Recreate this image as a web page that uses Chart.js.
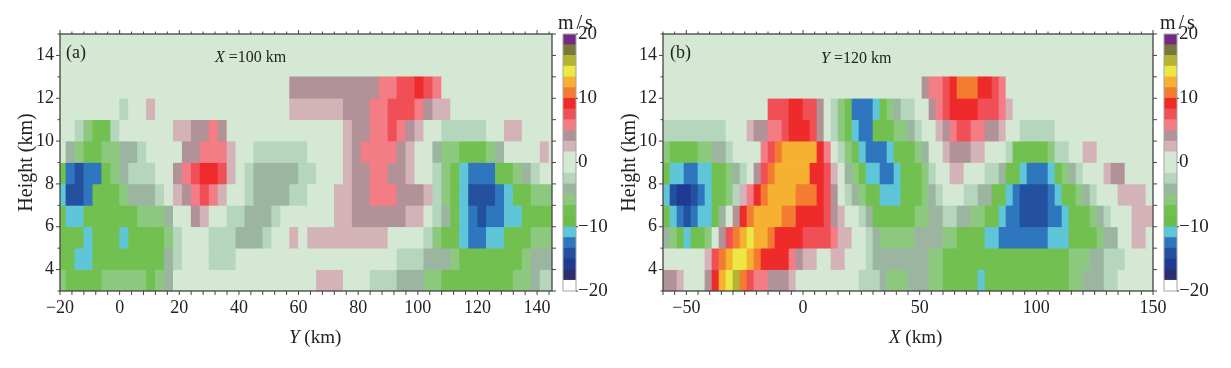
<!DOCTYPE html>
<html>
<head>
<meta charset="utf-8">
<title>Wind sections</title>
<script src="https://cdn.jsdelivr.net/npm/chart.js@4"></script>
<style>
    html, body { margin: 0; padding: 0; background: #fff; }
    body { position: relative; width: 1231px; height: 368px; overflow: hidden; font-family: "Liberation Serif", serif; color: #222; }
    canvas { position: absolute; top: 0; }
    .label { position: absolute; white-space: pre; line-height: 20px; }
</style>
</head>
<body>

<canvas id="panelA" width="560" height="368" style="left:0"></canvas>
<canvas id="barA" width="60" height="368" style="left:556px"></canvas>
<canvas id="panelB" width="580" height="368" style="left:603px"></canvas>
<canvas id="barB" width="60" height="368" style="left:1157px"></canvas>

<div class="label" style="left:66px;top:42px;font-size:18px">(a)</div>
<div class="label" style="left:215px;top:47px;font-size:16px"><i>X</i> =100 km</div>
<div class="label" style="left:289px;top:327px;font-size:19px"><i>Y</i> (km)</div>
<div class="label" style="left:558px;top:12px;font-size:20px;letter-spacing:3px">m/s</div>

<div class="label" style="left:670px;top:42px;font-size:18px">(b)</div>
<div class="label" style="left:821px;top:48px;font-size:16px"><i>Y</i> =120 km</div>
<div class="label" style="left:889px;top:327px;font-size:19px"><i>X</i> (km)</div>
<div class="label" style="left:1160px;top:12px;font-size:20px;letter-spacing:3px">m/s</div>

<script>

// --------------------------------------------
// Colour scale (24 steps from -20 to 20 m/s)
// --------------------------------------------

const levelColors = [
    "#ffffff", "#2e2e6e", "#1f3a93", "#2450a0", "#2e76bd", "#5fc5d8",
    "#6cbd45", "#72c04f", "#8cc97f", "#9bb5a0", "#b5d6bd", "#d5e8d4",
    "#d5e8d4", "#d4b3b8", "#b09298", "#f37c85", "#f04f55", "#ee2a2a",
    "#f47c30", "#f6b133", "#ebe843", "#b5b334", "#78783a", "#742a83"
];

const barEdges = [
    -20, -18.33, -16.67, -15, -13.33, -11.67, -10, -8.33, -6.67, -5, -3.33, -1.67, 0,
    1.67, 3.33, 5, 6.67, 8.33, 10, 11.67, 13.33, 15, 16.67, 18.33, 20
];

const barTicks = [20, 10, 0, -10, -20];


// --------------------------------------------
// Panel (a), X = 100 km, one list per height row
// --------------------------------------------

const colsA = [
    -19.5, -16.5, -13.5, -10.5, -7.5, -4.5, -1.5, 1.5, 4.5, 7.5, 10.5, 13.5, 16.5, 19.5,
    22.5, 25.5, 28.5, 31.5, 34.5, 37.5, 40.5, 43.5, 46.5, 49.5, 52.5, 55.5, 58.5, 61.5,
    64.5, 67.5, 70.5, 73.5, 76.5, 79.5, 82.5, 85.5, 88.5, 91.5, 94.5, 97.5, 100.5, 103.5,
    106.5, 109.5, 112.5, 115.5, 118.5, 121.5, 124.5, 127.5, 130.5, 133.5, 136.5, 139.5, 142.5, 145.5
];

const a12 = [0,0,0,0,0,0,0,0,0,0,0,0,0,0,0,0,0,0,0,0,0,0,0,0,0,0,4,4,4,4,4,4,4,4,4,4,6,6,7.5,7.5,9,7.5,6,0,0,0,0,0,0,0,0,0,0,0,0,0];
const a11 = [0,0,0,0,0,0,0,-2.5,0,0,2.5,0,0,0,0,0,0,0,0,0,0,0,0,0,0,0,2.5,2.5,2.5,2.5,2.5,2.5,4,4,4,6,6,7.5,7.5,7.5,6,4,2.5,2.5,0,0,0,0,0,0,0,0,0,0,0,0];
const a10 = [0,0,-2.5,-6,-8,-8,-2.5,0,0,0,0,0,0,2.5,2.5,4,4,6,4,0,0,0,0,0,0,0,0,0,0,0,0,0,2.5,4,4,6,6,7.5,6,4,2.5,0,0,-2.5,-2.5,-2.5,-2.5,-2.5,0,0,2.5,2.5,0,0,0,0];
const a9 = [0,-4,-6,-8,-8,-6,-6,-4,-4,-2.5,0,0,0,0,4,4,6,6,6,2.5,0,0,-2.5,-2.5,-2.5,-2.5,-2.5,-2.5,0,0,0,0,2.5,4,6,6,6,6,4,2.5,0,0,-4,-6,-6,-8,-8,-8,-6,-4,0,0,0,0,2.5,0];
const a8 = [-8,-12.5,-14,-12.5,-12.5,-8,-6,-4,-2.5,-2.5,-2.5,0,0,4,6,7.5,9,9,7.5,2.5,0,-2.5,-4,-4,-4,-4,-4,-2.5,-2.5,0,0,0,2.5,4,4,6,6,4,4,2.5,0,0,-2.5,-6,-8,-11,-12.5,-12.5,-12.5,-8,-8,-6,-4,-2.5,0,0];
const a7 = [-11,-14,-14,-12.5,-8,-8,-8,-6,-4,-4,-4,-2.5,0,2.5,4,6,7.5,6,2.5,0,0,-2.5,-4,-4,-4,-4,-2.5,-2.5,0,0,0,2.5,2.5,4,4,6,6,6,4,4,4,2.5,-2.5,-6,-8,-11,-14,-14,-14,-12.5,-11,-8,-8,-6,-6,-6];
const a6 = [-8,-11,-11,-8,-8,-8,-8,-8,-8,-6,-6,-6,-4,0,0,4,2.5,0,0,-2.5,-2.5,-4,-4,-4,-2.5,0,0,0,0,0,0,2.5,2.5,4,4,4,4,4,4,2.5,2.5,0,-2.5,-4,-8,-11,-12.5,-14,-12.5,-12.5,-11,-11,-8,-8,-8,-8];
const a5 = [-8,-8,-8,-11,-8,-8,-8,-11,-8,-8,-8,-8,-6,-2.5,0,0,0,-2.5,-2.5,-2.5,-4,-4,-4,-2.5,0,0,2.5,0,2.5,2.5,2.5,2.5,2.5,2.5,2.5,2.5,2.5,0,0,0,0,-2.5,-6,-8,-8,-11,-12.5,-12.5,-11,-11,-8,-8,-8,-6,-6,-6];
const a4 = [-8,-8,-11,-11,-8,-8,-8,-8,-8,-8,-8,-8,-4,-2.5,0,0,0,-2.5,-2.5,-2.5,0,0,0,0,0,0,0,0,0,0,0,0,0,0,0,0,0,0,-2.5,-2.5,-2.5,-4,-4,-4,-6,-8,-8,-8,-8,-8,-8,-8,-6,-4,-4,-4];
const a3 = [-6,-8,-8,-8,-8,-6,-6,-6,-6,-6,-8,-6,-4,0,0,0,0,0,0,0,0,0,0,0,0,0,0,0,0,2.5,2.5,2.5,0,0,0,-2.5,-2.5,-2.5,-4,-4,-4,-6,-6,-8,-8,-8,-8,-8,-8,-8,-8,-6,-6,-4,-2.5,-2.5];


// --------------------------------------------
// Panel (b), Y = 120 km, one list per height row
// --------------------------------------------

const colsB = [
    -58.5, -55.5, -52.5, -49.5, -46.5, -43.5, -40.5, -37.5, -34.5, -31.5, -28.5, -25.5, -22.5, -19.5,
    -16.5, -13.5, -10.5, -7.5, -4.5, -1.5, 1.5, 4.5, 7.5, 10.5, 13.5, 16.5, 19.5, 22.5,
    25.5, 28.5, 31.5, 34.5, 37.5, 40.5, 43.5, 46.5, 49.5, 52.5, 55.5, 58.5, 61.5, 64.5,
    67.5, 70.5, 73.5, 76.5, 79.5, 82.5, 85.5, 88.5, 91.5, 94.5, 97.5, 100.5, 103.5, 106.5,
    109.5, 112.5, 115.5, 118.5, 121.5, 124.5, 127.5, 130.5, 133.5, 136.5, 139.5, 142.5, 145.5, 148.5
];

const b12 = [0,0,0,0,0,0,0,0,0,0,0,0,0,0,0,0,0,0,0,0,0,0,0,0,0,0,0,0,0,0,0,0,0,0,0,0,0,4,6,6,7.5,9,11,11,11,9,9,7.5,6,0,0,0,0,0,0,0,0,0,0,0,0,0,0,0,0,0,0,0,0,0];
const b11 = [0,0,0,0,0,0,0,0,0,0,0,0,0,0,0,7.5,7.5,7.5,9,9,7.5,7.5,4,0,-2.5,-6,-8,-12.5,-12.5,-12.5,-11,-8,-6,-4,-2.5,-2.5,0,0,4,6,7.5,9,9,9,9,7.5,7.5,7.5,6,2.5,0,0,0,0,0,0,0,0,0,0,0,0,0,0,0,0,0,0,0,0];
const b10 = [-2.5,-2.5,-2.5,-2.5,-2.5,-2.5,-2.5,-2.5,-2.5,0,0,0,2.5,4,4,6,6,7.5,9,9,9,7.5,4,0,-2.5,-6,-8,-11,-12.5,-12.5,-8,-8,-8,-6,-6,-4,-2.5,0,0,2.5,4,6,7.5,7.5,6,6,4,4,2.5,0,0,-2.5,-2.5,-2.5,-2.5,-2.5,0,0,0,0,0,0,0,0,0,0,0,0,0,0];
const b9 = [-6,-8,-8,-8,-8,-6,-6,-4,-4,-2.5,0,0,0,0,6,7.5,11,12.5,12.5,12.5,12.5,12.5,9,6,0,-2.5,-6,-8,-11,-12.5,-12.5,-12.5,-11,-8,-8,-8,-6,-4,0,0,2.5,4,4,4,2.5,2.5,0,0,0,-2.5,-8,-8,-8,-8,-8,-6,-2.5,-2.5,0,0,2.5,2.5,0,0,0,0,0,0,0,0];
const b8 = [-8,-11,-11,-12.5,-12.5,-11,-11,-8,-8,-6,-4,-2.5,0,4,7.5,11,12.5,12.5,12.5,12.5,12.5,9,9,7.5,2.5,0,-4,-6,-8,-11,-11,-12.5,-12.5,-11,-8,-8,-8,-6,-2.5,0,0,2.5,2.5,0,0,0,-2.5,-2.5,-4,-8,-8,-11,-12.5,-12.5,-12.5,-11,-8,-6,-4,-2.5,0,0,0,2.5,4,4,0,0,0,0];
const b7 = [-11,-14,-16,-16,-14,-12.5,-11,-8,-8,-6,-2.5,2.5,6,9,11,12.5,12.5,12.5,12.5,11,11,11,9,7.5,4,0,-2.5,-4,-6,-8,-8,-11,-11,-11,-8,-8,-8,-6,-4,-2.5,0,0,0,-2.5,-2.5,-4,-4,-8,-8,-11,-12.5,-14,-14,-14,-14,-12.5,-11,-8,-8,-6,-4,-2.5,0,0,0,2.5,2.5,2.5,2.5,0];
const b6 = [-8,-11,-12.5,-14,-12.5,-11,-11,-8,-4,0,4,9,11,12.5,12.5,12.5,12.5,11,11,9,9,9,9,7.5,4,2.5,0,0,-2.5,-4,-8,-8,-8,-8,-8,-8,-6,-6,-4,-4,-2.5,-2.5,-4,-4,-6,-6,-8,-8,-11,-12.5,-12.5,-14,-14,-14,-14,-12.5,-12.5,-11,-8,-8,-8,-6,-4,-2.5,0,0,0,2.5,2.5,2.5];
const b5 = [-4,-6,-8,-11,-8,-8,-6,0,4,7.5,11,12.5,14,12.5,12.5,11,9,9,9,9,7.5,7.5,7.5,7.5,6,2.5,2.5,0,0,-2.5,-4,-6,-6,-6,-6,-6,-4,-4,-4,-4,-6,-6,-8,-8,-8,-8,-11,-11,-12.5,-12.5,-12.5,-12.5,-12.5,-12.5,-12.5,-11,-11,-11,-8,-8,-8,-8,-6,-4,-4,0,0,2.5,2.5,0];
const b4 = [0,0,0,0,0,0,2.5,7.5,11,12.5,14,14,12.5,11,9,9,9,9,6,4,2.5,2.5,0,0,2.5,2.5,0,0,0,-2.5,-4,-4,-4,-4,-4,-4,-4,-4,-6,-6,-8,-8,-8,-8,-8,-8,-8,-8,-8,-8,-8,-8,-8,-8,-8,-8,-8,-8,-6,-6,-6,-4,-4,-2.5,-2.5,-2.5,0,0,0,0];
const b3 = [4,4,2.5,0,0,0,4,9,12.5,14,16,11,7.5,6,6,4,4,4,2.5,0,0,0,0,0,0,0,0,0,-2.5,-2.5,-2.5,-4,-6,-6,-6,-4,-4,-4,-6,-6,-8,-8,-8,-8,-8,-11,-8,-8,-8,-8,-8,-8,-8,-8,-8,-8,-8,-8,-6,-6,-4,-4,-4,-2.5,-2.5,0,0,0,0,0];


// --------------------------------------------
// Axis ticks
// --------------------------------------------

const heightTicks = [4, 6, 8, 10, 12, 14];
const heightMinorTicks = [3, 4, 5, 6, 7, 8, 9, 10, 11, 12, 13, 14, 15];

const yKmTicks = [-20, 0, 20, 40, 60, 80, 100, 120, 140];
const yKmMinorTicks = [-20, -16, -12, -8, -4, 0, 4, 8, 12, 16, 20, 24, 28, 32, 36, 40, 44, 48, 52, 56, 60, 64, 68, 72, 76, 80, 84, 88, 92, 96, 100, 104, 108, 112, 116, 120, 124, 128, 132, 136, 140, 144];

const xKmTicks = [-50, 0, 50, 100, 150];
const xKmMinorTicks = [-60, -55, -50, -45, -40, -35, -30, -25, -20, -15, -10, -5, 0, 5, 10, 15, 20, 25, 30, 35, 40, 45, 50, 55, 60, 65, 70, 75, 80, 85, 90, 95, 100, 105, 110, 115, 120, 125, 130, 135, 140, 145, 150];


// --------------------------------------------
// Helpers
// --------------------------------------------

const inkColor = "#444444";
const tickFont = { family: "'Liberation Serif', serif", size: 18 };

function colorFor(value) {

    const index = Math.floor((value + 20) / (40 / 24));

    return levelColors[Math.max(0, Math.min(23, index))];

}

function rowDataset(row, cols, height) {

    return {
        data: row.map((value, i) => ({ x: cols[i], y: [height, height + 1] })),
        backgroundColor: row.map(colorFor),
        borderWidth: 0,
        grouped: false,
        barPercentage: 1,
        categoryPercentage: 1
    };

}

function formatTick(value) {

    return value < 0 ? "\u2212" + Math.abs(value) : String(value);

}

function fixTicks(values) {

    return scale => {
        scale.ticks = values.map(value => ({ value: value }));
    };

}


// --------------------------------------------
// Frame plugin: plot background, spines and tick marks
// --------------------------------------------

const framePlugin = {

    id: "frame",

    beforeDatasetsDraw(chart) {

        const area = chart.chartArea;
        const ctx = chart.ctx;

        ctx.save();
        ctx.fillStyle = levelColors[12];
        ctx.fillRect(area.left, area.top, area.right - area.left, area.bottom - area.top);
        ctx.restore();

    },

    afterDatasetsDraw(chart, args, options) {

        const area = chart.chartArea;
        const ctx = chart.ctx;
        const xScale = chart.scales.x;
        const yScale = chart.scales.y;

        ctx.save();
        ctx.strokeStyle = inkColor;
        ctx.lineWidth = 1.3;

        ctx.strokeRect(area.left, area.top, area.right - area.left, area.bottom - area.top);

        ctx.lineWidth = 1;
        ctx.beginPath();

        options.xMinor.forEach(value => {

            const px = xScale.getPixelForValue(value);
            const size = options.xMajor.includes(value) ? 4 : 2.5;

            ctx.moveTo(px, area.top);
            ctx.lineTo(px, area.top - size);
            ctx.moveTo(px, area.bottom);
            ctx.lineTo(px, area.bottom + 4);

        });

        options.yMinor.forEach(value => {

            const py = yScale.getPixelForValue(value);
            const size = options.yMajor.includes(value) ? 4 : 2.5;

            ctx.moveTo(area.left, py);
            ctx.lineTo(area.left - size, py);
            ctx.moveTo(area.right, py);
            ctx.lineTo(area.right + 4, py);

        });

        ctx.stroke();
        ctx.restore();

    }

};


// --------------------------------------------
// Colour bar outline
// --------------------------------------------

const barOutlinePlugin = {

    id: "barOutline",

    afterDatasetsDraw(chart) {

        const area = chart.chartArea;
        const ctx = chart.ctx;

        ctx.save();
        ctx.strokeStyle = "#a5a5a5";
        ctx.lineWidth = 1;
        ctx.strokeRect(area.left, area.top, area.right - area.left, area.bottom - area.top);

        ctx.strokeStyle = inkColor;
        ctx.beginPath();

        barTicks.forEach(value => {

            const py = chart.scales.y.getPixelForValue(value);

            ctx.moveTo(area.right, py);
            ctx.lineTo(area.right + 2, py);

        });

        ctx.stroke();
        ctx.restore();

    }

};


// --------------------------------------------
// Section chart
// --------------------------------------------

function drawPanel(canvasId, settings) {

    new Chart(

        document.getElementById(canvasId),

        {

            type: "bar",

            data: {

                datasets: settings.rows.map((row, i) => rowDataset(row, settings.cols, 12 - i))

            },

            options: {

                responsive: false,

                animation: false,

                layout: {

                    padding: { top: 34, left: settings.padLeft, right: settings.padRight, bottom: 0 }

                },

                plugins: {

                    legend: { display: false },

                    tooltip: { enabled: false },

                    frame: {

                        xMajor: settings.xTicks,
                        xMinor: settings.xMinor,
                        yMajor: heightTicks,
                        yMinor: heightMinorTicks

                    }

                },

                scales: {

                    x: {

                        type: "linear",

                        offset: false,

                        min: settings.xMin,

                        max: settings.xMax,

                        afterBuildTicks: fixTicks(settings.xTicks),

                        afterFit: scale => {
                            scale.height = 77;
                            scale.paddingLeft = 0;
                            scale.paddingRight = 0;
                        },

                        grid: { display: false, drawTicks: false },

                        border: { display: false },

                        ticks: {

                            color: "#222222",
                            font: tickFont,
                            padding: 6,
                            maxRotation: 0,
                            autoSkip: false,
                            callback: formatTick

                        }

                    },

                    y: {

                        min: 3,

                        max: 15,

                        afterBuildTicks: fixTicks(heightTicks),

                        afterFit: scale => { scale.width = settings.axisWidth; },

                        grid: { display: false, drawTicks: false },

                        border: { display: false },

                        title: {

                            display: true,
                            text: "Height (km)",
                            color: "#222222",
                            font: { family: tickFont.family, size: 20 },
                            padding: { top: settings.titlePad, bottom: 0 }

                        },

                        ticks: {

                            color: "#222222",
                            font: tickFont,
                            padding: 6,
                            autoSkip: false,
                            callback: formatTick

                        }

                    }

                }

            },

            plugins: [framePlugin]

        }

    );

}


// --------------------------------------------
// Colour bar chart
// --------------------------------------------

function drawColorBar(canvasId, padLeft) {

    new Chart(

        document.getElementById(canvasId),

        {

            type: "bar",

            data: {

                labels: [""],

                datasets: levelColors.map((color, i) => ({

                    data: [[barEdges[i], barEdges[i + 1]]],
                    backgroundColor: color,
                    borderWidth: 0,
                    grouped: false,
                    barPercentage: 1,
                    categoryPercentage: 1

                }))

            },

            options: {

                responsive: false,

                animation: false,

                layout: {

                    padding: { top: 34, left: padLeft, right: 0, bottom: 77 }

                },

                plugins: {

                    legend: { display: false },

                    tooltip: { enabled: false }

                },

                scales: {

                    x: { display: false },

                    y: {

                        position: "right",

                        min: -20,

                        max: 20,

                        afterBuildTicks: fixTicks(barTicks),

                        afterFit: scale => { scale.width = 40; },

                        grid: { display: false, drawTicks: false },

                        border: { display: false },

                        ticks: {

                            color: "#222222",
                            font: { family: tickFont.family, size: 19 },
                            padding: 2,
                            autoSkip: false,
                            callback: formatTick

                        }

                    }

                }

            },

            plugins: [barOutlinePlugin]

        }

    );

}


// --------------------------------------------
// Draw everything
// --------------------------------------------

drawPanel("panelA", {

    rows: [a12, a11, a10, a9, a8, a7, a6, a5, a4, a3],
    cols: colsA,
    xMin: -20,
    xMax: 145,
    xTicks: yKmTicks,
    xMinor: yKmMinorTicks,
    padLeft: 0,
    padRight: 8,
    axisWidth: 60,
    titlePad: 15

});

drawColorBar("barA", 7);

drawPanel("panelB", {

    rows: [b12, b11, b10, b9, b8, b7, b6, b5, b4, b3],
    cols: colsB,
    xMin: -60,
    xMax: 150,
    xTicks: xKmTicks,
    xMinor: xKmMinorTicks,
    padLeft: 0,
    padRight: 30,
    axisWidth: 60,
    titlePad: 15

});

drawColorBar("barB", 7);

</script>
</body>
</html>
